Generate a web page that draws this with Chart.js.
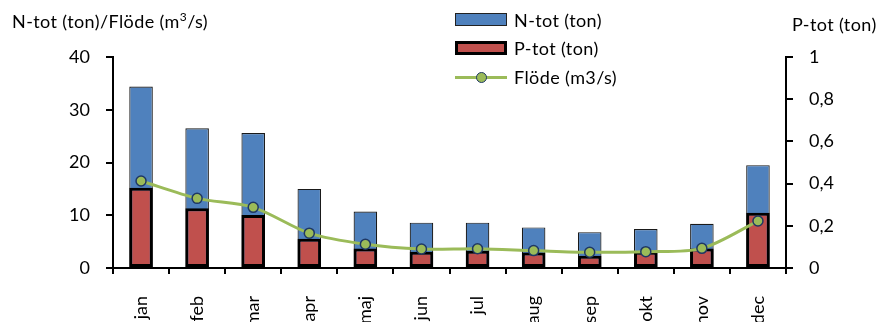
<!DOCTYPE html>
<html>
<head>
<meta charset="utf-8">
<script src="https://cdn.jsdelivr.net/npm/chart.js@4/dist/chart.umd.min.js"></script>
<style>
  html, body { margin: 0; padding: 0; background: #fff; }
  #wrap { position: relative; width: 881px; height: 322px; font-family: Lato, "Open Sans", sans-serif; color: #000; overflow: hidden; }
  #wrap canvas { position: absolute; left: 0; top: 0; }
  .txt { position: absolute; font-size: 18px; line-height: 20px; white-space: nowrap; letter-spacing: 0.4px; }
  .sw { position: absolute; box-sizing: border-box; }
</style>
</head>
<body>
<div id="wrap">
  <canvas id="c" width="881" height="322"></canvas>

  <!-- axis titles -->
  <div class="txt" style="left:12px; top:11px;">N-tot (ton)/Flöde (m<sup style="font-size:12px; line-height:0;">3</sup>/s)</div>
  <div class="txt" style="left:792px; top:14px;">P-tot (ton)</div>

  <!-- legend -->
  <div class="sw" style="left:455px; top:13px; width:52px; height:13px; background:#4F81BD; border:1px solid #222;"></div>
  <div class="txt" style="left:514px; top:10px;">N-tot (ton)</div>
  <div class="sw" style="left:455px; top:41px; width:52px; height:14px; background:#C0504D; border:3px solid #000;"></div>
  <div class="txt" style="left:514px; top:38px;">P-tot (ton)</div>
  <div class="sw" style="left:455px; top:76px; width:52px; height:3px; background:#9BBB59;"></div>
  <div class="sw" style="left:476px; top:72px; width:11px; height:11px; border-radius:50%; background:#9BBB59; border:1.5px solid #1F3864;"></div>
  <div class="txt" style="left:514px; top:67px;">Flöde (m3/s)</div>
</div>

<script>
// Monthly loads and flow
const months = ['jan', 'feb', 'mar', 'apr', 'maj', 'jun', 'jul', 'aug', 'sep', 'okt', 'nov', 'dec'];
const nTot   = [34.4, 26.5, 25.6, 15.0, 10.7, 8.6, 8.6, 7.7, 6.8, 7.4, 8.4, 19.5];
const pTot   = [0.38, 0.283, 0.251, 0.139, 0.093, 0.077, 0.082, 0.074, 0.058, 0.077, 0.093, 0.262];
const flode  = [16.5, 13.2, 11.5, 6.6, 4.5, 3.6, 3.65, 3.3, 2.98, 3.1, 3.73, 8.9];

// Axis ranges
const leftMax = 40, leftStep = 10;
const rightMax = 1, rightStep = 0.2;

const FONT = { family: 'Lato, "Open Sans", sans-serif', size: 18 };

const axisGrid = { drawOnChartArea: false, color: '#000', lineWidth: 2, tickLength: 6 };
const axisBorder = { color: '#000', width: 2 };

new Chart(document.getElementById('c'), {
  type: 'bar',
  data: {
    labels: months,
    datasets: [
      {
        label: 'N-tot (ton)',
        data: nTot,
        yAxisID: 'y',
        backgroundColor: '#4F81BD',
        borderColor: '#1a1a1a',
        borderWidth: 1.2,
        borderSkipped: false,
        grouped: false,
        categoryPercentage: 1,
        barPercentage: 0.42,
        order: 2
      },
      {
        label: 'P-tot (ton)',
        data: pTot,
        yAxisID: 'y1',
        backgroundColor: '#C0504D',
        borderColor: '#000',
        borderWidth: 3,
        borderSkipped: false,
        grouped: false,
        categoryPercentage: 1,
        barPercentage: 0.42,
        order: 1
      },
      {
        type: 'line',
        label: 'Flöde (m3/s)',
        data: flode,
        yAxisID: 'y',
        borderColor: '#9BBB59',
        borderWidth: 3,
        tension: 0.3,
        pointRadius: 5,
        pointBackgroundColor: '#9BBB59',
        pointBorderColor: '#1F3864',
        pointBorderWidth: 1.5,
        order: 0
      }
    ]
  },
  options: {
    responsive: false,
    animation: false,
    devicePixelRatio: 1,
    layout: { padding: { top: 57, left: 0, right: 0, bottom: 0 } },
    plugins: { legend: { display: false }, tooltip: { enabled: false } },
    scales: {
      x: {
        offset: true,
        grid: { ...axisGrid, offset: true, tickLength: 6 },
        border: axisBorder,
        ticks: {
          color: '#000', font: FONT, padding: 22,
          minRotation: 90, maxRotation: 90, autoSkip: false
        },
        afterFit: s => { s.height = 54; }
      },
      y: {
        position: 'left',
        min: 0, max: leftMax,
        grid: { ...axisGrid, tickLength: 7 },
        border: axisBorder,
        ticks: { stepSize: leftStep, color: '#000', font: FONT, padding: 16 },
        afterFit: s => { s.width = 113; }
      },
      y1: {
        position: 'right',
        min: 0, max: rightMax,
        grid: { ...axisGrid, tickLength: 7 },
        border: axisBorder,
        ticks: {
          stepSize: rightStep, color: '#000', font: FONT, padding: 16,
          callback: v => String(Number(v.toFixed(1))).replace('.', ',')
        },
        afterFit: s => { s.width = 95; }
      }
    }
  }
});
</script>
</body>
</html>
